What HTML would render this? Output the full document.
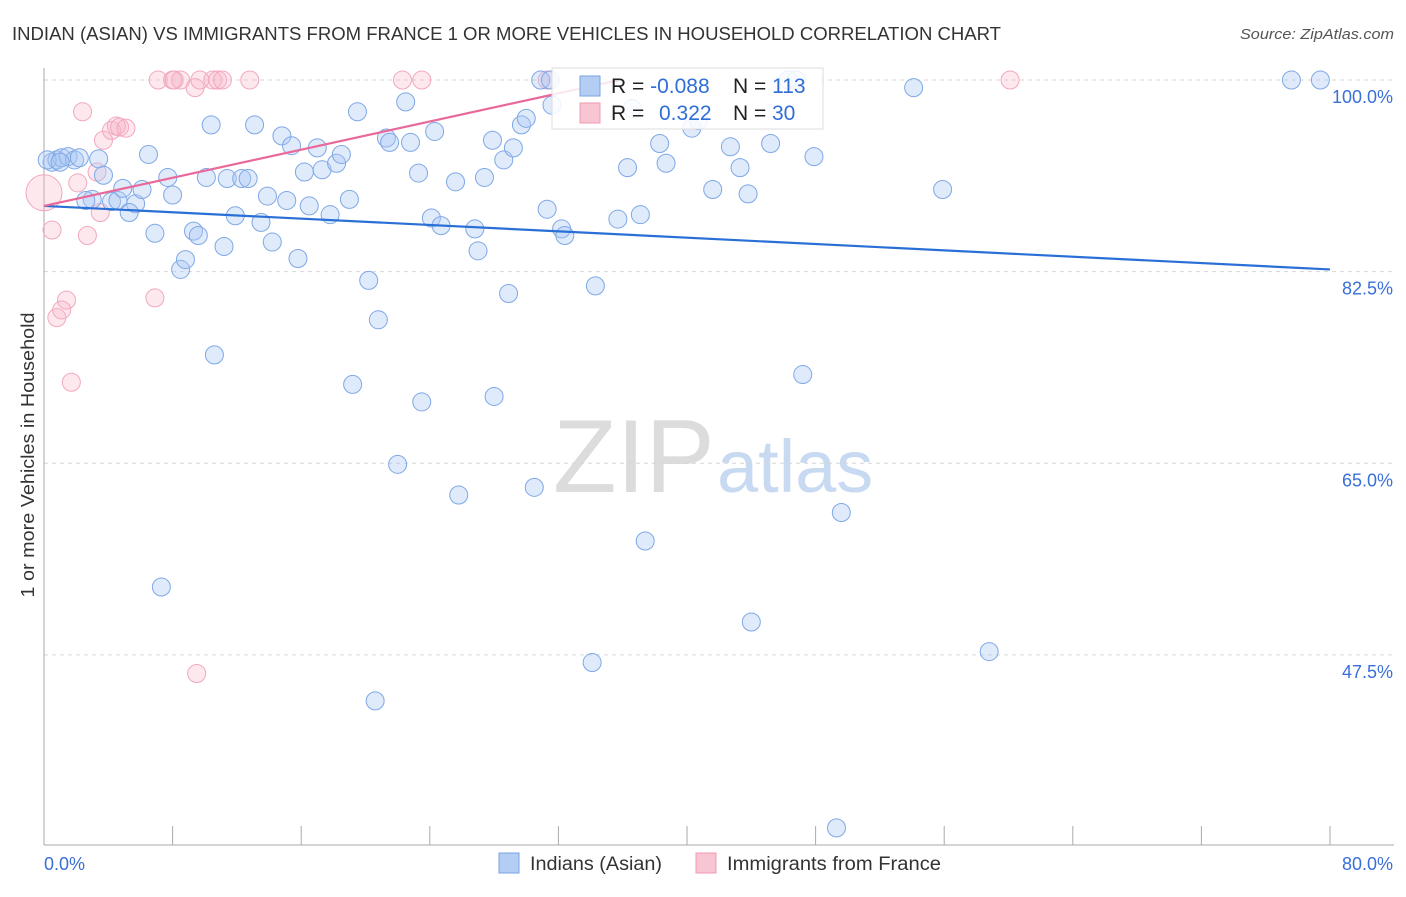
<!DOCTYPE html>
<html><head><meta charset="utf-8"><style>
body{margin:0;background:#fff;}
svg text{font-family:"Liberation Sans",sans-serif;}
</style></head><body>
<svg id="chart" width="1406" height="892" xmlns="http://www.w3.org/2000/svg">
<text x="12" y="40" font-size="18" fill="#333" textLength="989" lengthAdjust="spacingAndGlyphs">INDIAN (ASIAN) VS IMMIGRANTS FROM FRANCE 1 OR MORE VEHICLES IN HOUSEHOLD CORRELATION CHART</text>
<text x="1240" y="39" font-size="15" fill="#555" font-style="italic" textLength="154" lengthAdjust="spacingAndGlyphs">Source: ZipAtlas.com</text>
<g>
<text x="553" y="492" font-size="104" fill="#dcdcdc" font-family="Liberation Serif,serif">ZIP</text>
<text x="717" y="492" font-size="74" fill="#c8daf2">atlas</text>
</g>
<g id="grid"></g>
<g id="axes"></g>
<g id="pts"></g>
<g id="trend"></g>
<g>
<rect x="552" y="68" width="271" height="61" fill="#fff" fill-opacity="0.85" stroke="#ddd"/>
<rect x="580" y="76" width="20" height="20" fill="#b3cdf3" stroke="#7aa3e3"/>
<rect x="580" y="103" width="20" height="20" fill="#f8c6d3" stroke="#f09ab2"/>
<text x="611" y="93" font-size="21" fill="#222">R = <tspan fill="#2f6ed6">-0.088</tspan></text>
<text x="733" y="93" font-size="21" fill="#222">N = <tspan fill="#2f6ed6">113</tspan></text>
<text x="611" y="120" font-size="21" fill="#222">R = <tspan x="659" fill="#2f6ed6">0.322</tspan></text>
<text x="733" y="120" font-size="21" fill="#222">N = <tspan x="772" fill="#2f6ed6">30</tspan></text>
</g>
<text transform="translate(34,455) rotate(-90)" font-size="18" fill="#333" text-anchor="middle" textLength="285" lengthAdjust="spacingAndGlyphs">1 or more Vehicles in Household</text>
<text x="44" y="870" font-size="18" fill="#3a6fd8">0.0%</text>
<text x="1393" y="870" font-size="18" fill="#3a6fd8" text-anchor="end">80.0%</text>
<g>
<rect x="499" y="853" width="20" height="20" fill="#b3cdf3" stroke="#7aa3e3"/>
<text x="530" y="870" font-size="19" fill="#333" textLength="132" lengthAdjust="spacingAndGlyphs">Indians (Asian)</text>
<rect x="696" y="853" width="20" height="20" fill="#f8c6d3" stroke="#f09ab2"/>
<text x="727" y="870" font-size="19" fill="#333" textLength="214" lengthAdjust="spacingAndGlyphs">Immigrants from France</text>
</g>
</svg>
<script>
const yTicks=[100,82.5,65,47.5];
const yTickLabels=["100.0%","82.5%","65.0%","47.5%"];
const xTicks=[0,8,16,24,32,40,48,56,64,72,80];
const blueX=[0.5,0.8,1.1,1.5,1.9,2.2,3.4,3.7,3.0,2.6,4.2,4.6,4.9,5.7,5.3,6.1,6.5,6.9,7.7,8.0,8.5,8.8,9.3,9.6,10.1,10.4,10.6,11.2,11.4,11.9,12.3,12.7,13.1,13.5,13.9,14.2,14.8,15.1,15.4,15.8,16.2,16.5,17.0,17.3,17.8,18.2,18.5,19.0,19.5,20.2,19.2,20.8,21.3,21.5,22.0,22.5,22.8,23.3,23.5,24.1,24.3,24.7,25.6,25.8,26.8,27.0,27.4,27.9,28.0,28.6,28.9,29.2,29.7,30.0,30.5,30.9,31.3,31.6,32.2,32.4,34.1,34.3,35.7,36.3,36.6,37.1,37.4,38.3,38.7,40.3,40.7,41.6,42.7,43.3,43.8,44.0,45.2,46.3,46.8,47.2,47.9,49.3,49.6,54.1,55.9,58.8,77.6,79.4,20.6,7.3,31.5,0.2,1.0];
const blueY=[92.5,92.7,92.9,93.0,92.7,92.9,92.8,91.3,89.1,89.0,88.9,89.0,90.1,88.7,87.9,90.0,93.2,86.0,91.1,89.5,82.7,83.6,86.2,85.8,91.1,95.9,74.9,84.8,91.0,87.6,91.0,91.0,95.9,87.0,89.4,85.2,94.9,89.0,94.0,83.7,91.6,88.5,93.8,91.8,87.7,92.4,93.2,89.1,97.1,81.7,72.2,78.1,94.7,94.3,64.9,98.0,94.3,91.5,70.6,87.4,95.3,86.7,90.7,62.1,86.4,84.4,91.1,94.5,71.1,92.7,80.5,93.8,95.9,96.5,62.8,100,88.2,97.7,86.4,85.8,46.8,81.2,87.3,92.0,97.4,87.7,57.9,94.2,92.4,95.6,96.3,90.0,93.9,92.0,89.6,50.5,94.2,100,100,73.1,93.0,31.7,60.5,99.3,90.0,47.8,100,100,43.3,53.7,100,92.7,92.5];
const pinkX=[0,0.5,0.8,1.4,1.1,1.7,2.4,2.7,3.3,3.5,3.7,4.2,4.5,4.7,5.1,2.1,6.9,7.1,8.0,8.1,8.5,9.4,9.7,10.5,10.8,11.1,12.8,22.3,23.5,31.3,60.1,9.5];
const pinkY=[89.7,86.3,78.3,79.9,79.0,72.4,97.1,85.8,91.6,87.9,94.5,95.4,95.8,95.7,95.6,90.6,80.1,100,100,100,100,99.3,100,100,100,100,100,100,100,100,100,45.8];
const blueTrendX=[0,80], blueTrendY=[88.5,82.7];
const pinkTrendX=[0,35.8], pinkTrendY=[88.5,100];

const X0=44,X1=1330,Y100=80,PXPER=10.95;
const xs=v=>X0+(v/80)*(X1-X0);
const ys=v=>Y100+(100-v)*PXPER;
const NS="http://www.w3.org/2000/svg";
function mk(tag,attrs,parent){const e=document.createElementNS(NS,tag);for(const k in attrs)e.setAttribute(k,attrs[k]);parent.appendChild(e);return e;}
const grid=document.getElementById('grid');
yTicks.forEach((t,i)=>{
  const l=mk('line',{x1:44,x2:1394,y1:ys(t),y2:ys(t),stroke:'#d6d6d6','stroke-dasharray':'4,4'},grid);
  
  
  const tx=mk('text',{x:1393,y:ys(t)+23,'font-size':18,fill:'#3a6fd8','text-anchor':'end'},grid);
  tx.textContent=yTickLabels[i];
  
  
});
const axes=document.getElementById('axes');
const ya=mk('line',{x1:44,x2:44,y1:68,y2:845,stroke:'#aaa'},axes);


const xa=mk('line',{x1:44,x2:1394,y1:845,y2:845,stroke:'#aaa'},axes);


xTicks.forEach(t=>{
  const l=mk('line',{x1:xs(t),x2:xs(t),y1:826,y2:845,stroke:'#aaa'},axes);
  
  
});
const pts=document.getElementById('pts');
pinkX.forEach((v,i)=>{
  const c=mk('circle',{cx:xs(v),cy:ys(pinkY[i]),r:i===0?18:9,fill:'rgba(248,180,200,0.3)',stroke:'#f2a8be','stroke-width':1},pts);
  
  
});
blueX.forEach((v,i)=>{
  const c=mk('circle',{cx:xs(v),cy:ys(blueY[i]),r:9,fill:'rgba(170,200,245,0.38)',stroke:'#7fa8e6','stroke-width':1},pts);
  
  
});
const tr=document.getElementById('trend');
const bt=mk('line',{x1:xs(blueTrendX[0]),y1:ys(blueTrendY[0]),x2:xs(blueTrendX[1]),y2:ys(blueTrendY[1]),stroke:'#2a6fd6','stroke-width':2.2},tr);


const pt=mk('line',{x1:xs(pinkTrendX[0]),y1:ys(pinkTrendY[0]),x2:xs(pinkTrendX[1]),y2:ys(pinkTrendY[1]),stroke:'#e8699a','stroke-width':2.2},tr);


</script>
</body></html>
